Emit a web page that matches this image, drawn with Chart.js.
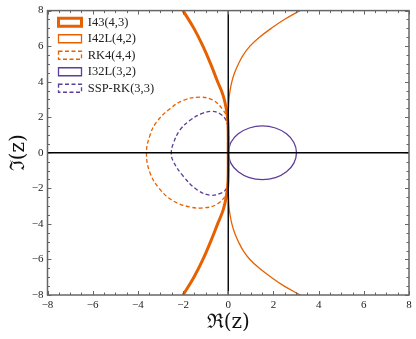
<!DOCTYPE html>
<html>
<head>
<meta charset="utf-8">
<script src="https://cdn.jsdelivr.net/npm/chart.js@4"></script>
<style>
  html, body { margin: 0; padding: 0; background: #fff; }
  #wrap { width: 416px; height: 339px; }
</style>
</head>
<body>
<div id="wrap"><canvas id="chart"></canvas></div>
<script>
// 곡선 데이터
const seriesNames = ["I43(4,3)", "I42L(4,2)", "RK4(4,4)", "I32L(3,2)", "SSP-RK(3,3)"];

const i43Re = [-2.0, -1.52, -1.12, -0.78, -0.47, -0.22, -0.07, -0.01, 0, -0.01, -0.07, -0.22, -0.47, -0.78, -1.12, -1.52, -2.0];
const i43Im = [8, 7, 6, 5, 4, 3.2, 2.35, 1.6, 0, -1.6, -2.35, -3.2, -4, -5, -6, -7, -8];

const i42Re = [3.17, 2.48, 1.9, 1.38, 0.96, 0.66, 0.45, 0.28, 0.16, 0.08, 0.03, 0, 0, 0, 0.03, 0.08, 0.16, 0.28, 0.45, 0.66, 0.96, 1.38, 1.9, 2.48, 3.18];
const i42Im = [8, 7.5, 7, 6.5, 6, 5.5, 5, 4.5, 4, 3.5, 3, 2, 0, -2, -3, -3.5, -4, -4.5, -5, -5.5, -6, -6.5, -7, -7.5, -8];

const rk4Re = [0, -0.02, -0.04, -0.22, -0.66, -1.25, -1.99, -2.58, -3.17, -3.46, -3.62, -3.46, -3.02, -2.43, -1.69, -1.1, -0.51, -0.07, -0.02, 0];
const rk4Im = [0, 1.3, 1.92, 2.39, 2.95, 3.13, 2.95, 2.48, 1.74, 1.0, 0, -1.14, -2.06, -2.71, -3.05, -3.1, -2.9, -2.25, -1.3, 0];

const i32Re = [0, 0.115, 0.442, 0.932, 1.51, 2.088, 2.578, 2.905, 3.02, 2.905, 2.578, 2.088, 1.51, 0.932, 0.442, 0.115, 0];
const i32Im = [0, 0.578, 1.068, 1.395, 1.51, 1.395, 1.068, 0.578, 0, -0.578, -1.068, -1.395, -1.51, -1.395, -1.068, -0.578, 0];

const sspRe = [0, 0.02, -0.1, -0.37, -0.73, -1.18, -1.69, -2.14, -2.43, -2.52, -2.43, -1.99, -1.4, -0.81, -0.29, -0.07, 0.02, 0];
const sspIm = [0, 1.0, 1.83, 2.2, 2.33, 2.2, 1.83, 1.28, 0.53, 0, -0.49, -1.32, -2.06, -2.38, -2.25, -1.97, -1.0, 0];

const axisTicks = [-8, -6, -4, -2, 0, 2, 4, 6, 8];

const ORANGE = "#e66101";
const PURPLE = "#5e3c99";

function pts(re, im) {
  return re.map((v, i) => ({ x: v, y: im[i] }));
}

function curve(label, re, im, color, width, dash) {
  return {
    label: label,
    data: pts(re, im),
    showLine: true,
    borderColor: color,
    backgroundColor: "rgba(255,255,255,0)",
    borderWidth: width,
    borderDash: dash,
    pointRadius: 0,
    tension: 0.4
  };
}

// 범례를 그림 안쪽으로 조금 이동
const legendShift = {
  id: "legendShift",
  afterLayout(chart) {
    chart.legend.left += 7;
    chart.legend.top += 12;
  }
};

// 안쪽 눈금, 0 축선, 테두리
const frameTicks = {
  id: "frameTicks",
  afterDatasetsDraw(chart) {
    const { ctx, chartArea: a, scales: { x, y } } = chart;
    ctx.save();
    const x0 = x.getPixelForValue(0), y0 = y.getPixelForValue(0);
    ctx.strokeStyle = "#000";
    ctx.lineWidth = 1.4;
    ctx.beginPath();
    ctx.moveTo(x0, a.top); ctx.lineTo(x0, a.bottom);
    ctx.moveTo(a.left, y0); ctx.lineTo(a.right, y0);
    ctx.stroke();

    ctx.strokeStyle = "#666";
    ctx.lineWidth = 1;
    ctx.beginPath();
    for (let v = -8; v <= 8; v += 0.5) {
      const len = v % 2 === 0 ? 4 : 2.5;
      const px = Math.round(x.getPixelForValue(v)) + 0.5;
      const py = Math.round(y.getPixelForValue(v)) + 0.5;
      ctx.moveTo(px, a.bottom); ctx.lineTo(px, a.bottom - len);
      ctx.moveTo(px, a.top); ctx.lineTo(px, a.top + len);
      ctx.moveTo(a.left, py); ctx.lineTo(a.left + len, py);
      ctx.moveTo(a.right, py); ctx.lineTo(a.right - len, py);
    }
    ctx.stroke();

    ctx.lineWidth = 1.5;
    ctx.strokeRect(a.left, a.top, a.right - a.left, a.bottom - a.top);
    ctx.restore();
  }
};

const tickFont = { family: "'Liberation Serif', 'DejaVu Serif', serif", size: 11 };
const titleFont = { family: "'DejaVu Serif', serif", size: 20 };
const minus = v => String(v).replace("-", "\u2212");

new Chart(document.getElementById("chart"), {
  type: "scatter",
  data: {
    datasets: [
      curve(seriesNames[0], i43Re, i43Im, ORANGE, 3, []),
      curve(seriesNames[1], i42Re, i42Im, ORANGE, 1.3, []),
      curve(seriesNames[2], rk4Re, rk4Im, ORANGE, 1.3, [4, 2.5]),
      curve(seriesNames[3], i32Re, i32Im, PURPLE, 1.3, []),
      curve(seriesNames[4], sspRe, sspIm, PURPLE, 1.3, [4, 2.5])
    ]
  },
  options: {
    responsive: true,
    maintainAspectRatio: false,
    animation: false,
    layout: { padding: { top: 7.5, right: 7, left: 0, bottom: 0 } },
    plugins: {
      tooltip: { enabled: false },
      legend: {
        position: "chartArea",
        align: "start",
        labels: {
          boxWidth: 23,
          boxHeight: 8,
          padding: 4,
          color: "#222",
          font: { family: "'Liberation Serif', 'DejaVu Serif', serif", size: 12.5 }
        }
      }
    },
    scales: {
      x: {
        type: "linear",
        min: -8, max: 8,
        afterBuildTicks: s => { s.ticks = axisTicks.map(v => ({ value: v })); },
        afterFit: s => { s.height = 44; },
        grid: { display: false, drawTicks: false },
        border: { display: false },
        ticks: { font: tickFont, color: "#222", padding: 4, maxRotation: 0, callback: minus },
        title: { display: true, text: "\u211C(z)", font: titleFont, color: "#111", padding: { top: 0, bottom: 4 } }
      },
      y: {
        type: "linear",
        min: -8, max: 8,
        afterBuildTicks: s => { s.ticks = axisTicks.map(v => ({ value: v })); },
        afterFit: s => { s.width = 47.5; },
        grid: { display: false, drawTicks: false },
        border: { display: false },
        ticks: { font: tickFont, color: "#222", padding: 4, callback: minus },
        title: { display: true, text: "\u2111(z)", font: titleFont, color: "#111", padding: { top: 7, bottom: 0 } }
      }
    }
  },
  plugins: [legendShift, frameTicks]
});
</script>
</body>
</html>
